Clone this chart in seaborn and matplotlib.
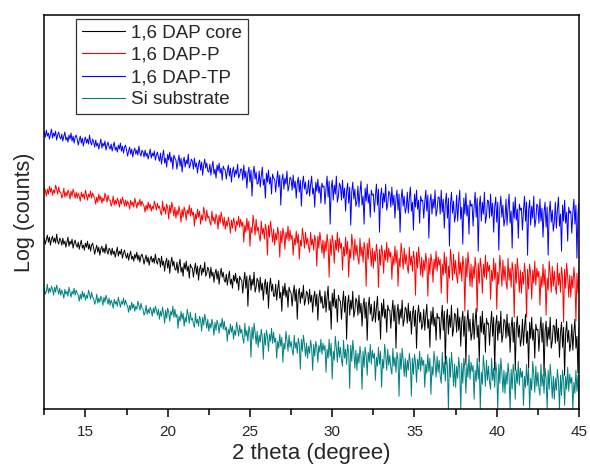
import numpy as np
import pandas as pd
import matplotlib
matplotlib.use("Agg")
import matplotlib.pyplot as plt
from matplotlib.ticker import MultipleLocator
import seaborn as sns

# 2-theta scan grid (degrees)
two_theta_start = 12.5
two_theta_stop = 45.0
two_theta_step = 0.0625

series_labels = ["1,6 DAP core", "1,6 DAP-P", "1,6 DAP-TP", "Si substrate"]
series_colors = ["#000000", "#FF0000", "#0000FF", "#008080"]

# Log(counts) in arbitrary stacked-offset units, one row per degree
log_counts_tp = [
    277,272,279,273,276,270,275,280,271,276,273,278,269,274,277,272,
    270,275,268,273,277,269,272,267,274,270,276,268,273,266,272,274,
    270,264,269,273,266,271,263,269,272,266,270,265,274,267,264,270,
    267,262,269,263,266,260,265,270,261,266,263,268,259,264,267,262,
    260,265,258,263,267,259,262,257,264,260,266,258,263,256,262,264,
    259,253,258,262,255,260,252,258,261,255,259,254,263,256,253,259,
    257,252,259,253,256,250,255,260,251,256,253,258,249,254,257,252,
    248,256,245,253,259,246,251,242,255,249,257,247,252,240,254,251,
    249,240,248,254,243,251,237,248,252,242,249,245,255,241,244,250,
    248,240,251,242,246,236,245,249,239,247,234,244,250,241,246,238,
    237,245,234,242,248,235,240,231,244,238,246,236,241,229,243,240,
    239,230,238,244,233,241,227,238,242,232,239,235,245,231,234,240,
    240,229,244,231,238,221,236,242,227,239,213,235,243,230,237,225,
    226,238,222,233,242,224,230,211,236,227,239,225,232,215,235,231,
    230,217,229,238,222,234,204,229,235,220,231,225,238,218,223,232,
    230,219,234,221,228,211,226,232,217,229,203,225,233,220,227,215,
    217,229,213,224,233,215,221,202,227,218,230,216,223,206,226,222,
    223,205,221,233,212,228,185,221,229,209,224,215,233,207,213,226,
    223,209,229,211,221,198,218,226,206,222,184,217,227,210,220,203,
    207,223,202,217,228,204,213,185,221,208,225,206,215,192,219,214,
    215,197,213,225,204,220,177,213,221,201,216,207,225,199,205,218,
    216,202,222,204,214,191,211,219,199,215,177,210,220,203,213,196,
    201,217,196,211,222,198,207,179,215,202,219,200,209,186,213,208,
    209,191,207,219,198,214,171,207,215,195,210,201,219,193,199,212,
    212,195,219,197,210,181,206,216,191,211,163,205,217,196,208,187,
    194,214,188,206,219,190,202,165,211,195,216,193,204,175,209,203,
    205,183,203,217,192,211,158,203,213,188,207,195,217,186,193,209,
    208,191,215,193,206,177,202,212,187,207,159,201,213,192,204,183,
    190,210,184,202,215,186,198,161,207,191,212,189,200,171,205,199,
    201,179,199,213,188,207,154,199,209,184,203,191,213,182,189,205,
    203,186,210,188,201,172,197,207,182,202,154,196,208,187,199,178,
    187,207,181,199,212,183,195,158,204,188,209,186,197,168,202,196,
    198,176,196,210,185,204,151,196,206,
]

log_counts_p = [
    221,219,213,220,215,223,217,221,214,219,216,224,220,215,222,217,
    217,211,214,221,212,217,213,219,216,210,218,213,220,216,211,217,
    211,216,213,208,217,212,215,210,219,214,209,215,212,218,211,216,
    213,211,205,212,207,215,209,213,206,211,208,216,212,207,214,209,
    209,203,206,213,204,209,205,211,208,202,210,205,212,208,203,209,
    203,208,205,200,209,204,207,202,211,206,201,207,204,210,203,208,
    205,203,197,204,199,207,201,205,198,203,200,208,204,199,206,201,
    203,197,194,208,198,202,195,205,201,190,204,196,207,201,193,202,
    191,199,194,203,197,187,200,192,202,198,189,199,195,204,193,201,
    194,197,183,195,190,200,192,198,185,194,189,202,196,188,199,191,
    193,187,184,198,188,192,185,195,191,180,194,186,197,191,183,192,
    180,188,183,192,186,176,189,181,191,187,178,188,184,193,182,190,
    183,187,167,184,177,191,179,188,163,182,176,194,185,174,190,178,
    182,173,168,188,175,181,170,185,179,154,184,172,188,179,167,180,
    164,176,169,182,174,152,178,166,181,175,160,177,170,183,168,179,
    170,174,154,171,164,178,166,175,150,169,163,181,172,161,177,165,
    171,162,157,177,164,170,159,174,168,143,173,161,177,168,156,169,
    151,168,158,175,165,132,170,154,174,166,146,169,159,177,157,171,
    161,166,139,162,153,172,155,168,132,160,151,175,164,149,170,154,
    164,151,145,171,153,162,147,167,159,123,166,150,171,159,143,161,
    141,158,148,165,155,122,160,144,164,156,136,159,149,167,147,161,
    152,157,130,153,144,163,146,159,123,151,142,166,155,140,161,145,
    155,142,136,162,144,153,138,158,150,114,157,141,162,150,134,152,
    132,149,139,156,146,113,151,135,155,147,127,150,140,158,138,152,
    144,150,116,145,134,157,136,152,106,143,131,160,147,129,155,135,
    149,133,126,157,135,147,128,153,143,98,151,132,157,143,123,145,
    122,143,131,152,140,98,146,126,151,141,116,145,132,154,130,147,
    138,144,110,139,128,151,130,146,100,137,125,154,141,123,149,129,
    143,127,120,151,129,141,122,147,137,92,145,126,151,137,117,139,
    116,137,125,146,134,92,140,120,145,135,110,139,126,148,124,141,
    132,138,104,133,122,145,124,140,94,131,119,148,135,117,143,123,
    138,122,115,146,124,136,117,142,132,87,140,121,146,132,112,134,
    112,133,121,142,130,88,136,116,141,
]

log_counts_core = [
    171,165,170,174,167,172,164,170,173,167,171,166,175,168,165,171,
    169,164,171,165,168,162,167,172,163,168,165,170,161,166,169,164,
    162,167,160,165,169,161,164,159,166,162,168,160,165,158,164,166,
    161,155,160,164,157,162,154,160,163,157,161,156,165,158,155,161,
    159,154,161,155,158,152,157,162,153,158,155,160,151,156,159,154,
    151,156,149,154,158,150,153,148,155,151,157,149,154,147,153,155,
    151,145,150,154,147,152,144,150,153,147,151,146,155,148,145,151,
    150,142,153,144,148,138,147,151,141,149,136,146,152,143,148,140,
    139,147,136,144,150,137,142,133,146,140,148,138,143,131,145,142,
    141,132,140,146,135,143,129,140,144,134,141,137,147,133,136,142,
    139,131,142,133,137,127,136,140,130,138,125,135,141,132,137,129,
    127,135,124,132,138,125,130,121,134,128,136,126,131,119,133,130,
    129,116,128,137,121,133,103,128,134,119,130,124,137,117,122,131,
    128,117,132,119,126,109,124,130,115,127,101,123,131,118,125,113,
    113,125,109,120,129,111,117,98,123,114,126,112,119,102,122,118,
    116,103,115,124,108,120,90,115,121,106,117,111,124,104,109,118,
    116,105,120,107,114,97,112,118,103,115,89,111,119,106,113,101,
    102,118,97,112,123,99,108,80,116,103,120,101,110,87,114,109,
    108,90,106,118,97,113,70,106,114,94,109,100,118,92,98,111,
    108,94,114,96,106,83,103,111,91,107,69,102,112,95,105,88,
    92,108,87,102,113,89,98,70,106,93,110,91,100,77,104,99,
    99,81,97,109,88,104,61,97,105,85,100,91,109,83,89,102,
    100,86,106,88,98,75,95,103,83,99,61,94,104,87,97,80,
    84,100,79,94,105,81,90,62,98,85,102,83,92,69,96,91,
    92,70,90,104,79,98,45,90,100,75,94,82,104,73,80,96,
    94,77,101,79,92,63,88,98,73,93,45,87,99,78,90,69,
    76,96,70,88,101,72,84,47,93,77,98,75,86,57,91,85,
    86,64,84,98,73,92,39,84,94,69,88,76,98,67,74,90,
    88,71,95,73,86,57,82,92,67,87,39,81,93,72,84,63,
    70,90,64,82,95,66,78,41,87,71,92,69,80,51,85,79,
    80,58,78,92,67,86,33,78,88,63,82,70,92,61,68,84,
    83,66,90,68,81,52,77,87,62,82,34,76,88,67,79,58,
    65,85,59,77,90,61,73,36,82,
]

log_counts_si = [
    121,115,118,125,116,121,117,123,120,114,122,117,124,120,115,121,
    114,119,116,111,120,115,118,113,122,117,112,118,115,121,114,119,
    116,114,108,115,110,118,112,116,109,114,111,119,115,110,117,112,
    111,105,108,115,106,111,107,113,110,104,112,107,114,110,105,111,
    104,109,106,101,110,105,108,103,112,107,102,108,105,111,104,109,
    105,103,97,104,99,107,101,105,98,103,100,108,104,99,106,101,
    100,94,97,104,95,100,96,102,99,93,101,96,103,99,94,100,
    90,98,93,102,96,86,99,91,101,97,88,98,94,103,92,100,
    92,95,81,93,88,98,90,96,83,92,87,100,94,86,97,89,
    91,85,82,96,86,90,83,93,89,78,92,84,95,89,81,90,
    78,86,81,90,84,74,87,79,89,85,76,86,82,91,80,88,
    79,82,68,80,75,85,77,83,70,79,74,87,81,73,84,76,
    80,71,66,86,73,79,68,83,77,52,82,70,86,77,65,78,
    62,74,67,80,72,50,76,64,79,73,58,75,68,81,66,77,
    67,71,51,68,61,75,63,72,47,66,60,78,69,58,74,62,
    68,59,54,74,61,67,56,71,65,40,70,58,74,65,53,66,
    51,63,56,69,61,39,65,53,68,62,47,64,57,70,55,66,
    59,64,37,60,51,70,53,66,30,58,49,73,62,47,68,52,
    62,49,43,69,51,60,45,65,57,21,64,48,69,57,41,59,
    39,56,46,63,53,20,58,42,62,54,34,57,47,65,45,59,
    51,56,29,52,43,62,45,58,22,50,41,65,54,39,60,44,
    54,41,35,61,43,52,37,57,49,13,56,40,61,49,33,51,
    32,49,39,56,46,13,51,35,55,47,27,50,40,58,38,52,
    44,49,22,45,36,55,38,51,15,43,34,58,47,32,53,37,
    49,33,26,57,35,47,28,53,43,0,51,32,57,43,23,45,
    22,43,31,52,40,0,46,26,51,41,16,45,32,54,30,47,
    38,44,10,39,28,51,30,46,0,37,25,54,41,23,49,29,
    43,27,20,51,29,41,22,47,37,0,45,26,51,37,17,39,
    16,37,25,46,34,0,40,20,45,35,10,39,26,48,24,41,
    32,38,4,33,22,45,24,40,0,31,19,48,35,17,43,23,
    37,21,14,45,23,35,16,41,31,0,39,20,45,31,11,33,
    10,31,19,40,28,0,34,14,39,29,4,33,20,42,18,35,
    26,32,0,27,16,39,18,34,0,
]

series_values = [log_counts_core, log_counts_p, log_counts_tp, log_counts_si]

n_points = len(log_counts_core)
two_theta = np.linspace(two_theta_start, two_theta_stop, n_points)

frames = []
for lab, vals in zip(series_labels, series_values):
    frames.append(pd.DataFrame({"two_theta": two_theta, "log_counts": vals, "sample": lab}))
df = pd.concat(frames, ignore_index=True)

sns.set_style("white")
plt.rcParams["font.family"] = ["Liberation Sans", "DejaVu Sans"]

fig = plt.figure(figsize=(5.9, 4.68), dpi=100)
ax = fig.add_axes([44.3 / 590, 1 - 409.3 / 468, (579 - 44.3) / 590, (409.3 - 15) / 468])

sns.lineplot(data=df, x="two_theta", y="log_counts", hue="sample",
             hue_order=series_labels, palette=series_colors,
             estimator=None, sort=False, linewidth=0.7, ax=ax)

ax.set_xlim(12.5, 45)
ax.set_ylim(0, 394)
ax.set_yticks([])
ax.xaxis.set_major_locator(MultipleLocator(5))
ax.xaxis.set_minor_locator(MultipleLocator(2.5))
ax.tick_params(axis="x", which="major", direction="out", length=5.5, width=1.1,
               color="black", labelsize=11, pad=6, bottom=True)
ax.tick_params(axis="x", which="minor", direction="out", length=4, width=1.1,
               color="black", bottom=True)
for s in ax.spines.values():
    s.set_visible(True)
    s.set_color("black")
    s.set_linewidth(1.1)

ax.set_xlabel("2 theta (degree)", fontsize=16, labelpad=3)
ax.set_ylabel("Log (counts)", fontsize=15.5, labelpad=6.5)

handles, labels = ax.get_legend_handles_labels()
leg = ax.legend(handles, labels, loc="upper left",
                bbox_to_anchor=((76 - 44.3) / 534.7, 1 - (19 - 15) / 394.3),
                borderaxespad=0, fontsize=13.5, frameon=True, fancybox=False,
                edgecolor="#333333", framealpha=1, handlelength=2.3,
                handletextpad=0.35, labelspacing=0.27, borderpad=0.3)
leg.get_frame().set_linewidth(0.9)
for line in leg.get_lines():
    line.set_linewidth(0.8)

fig.savefig("out.png", dpi=100)
